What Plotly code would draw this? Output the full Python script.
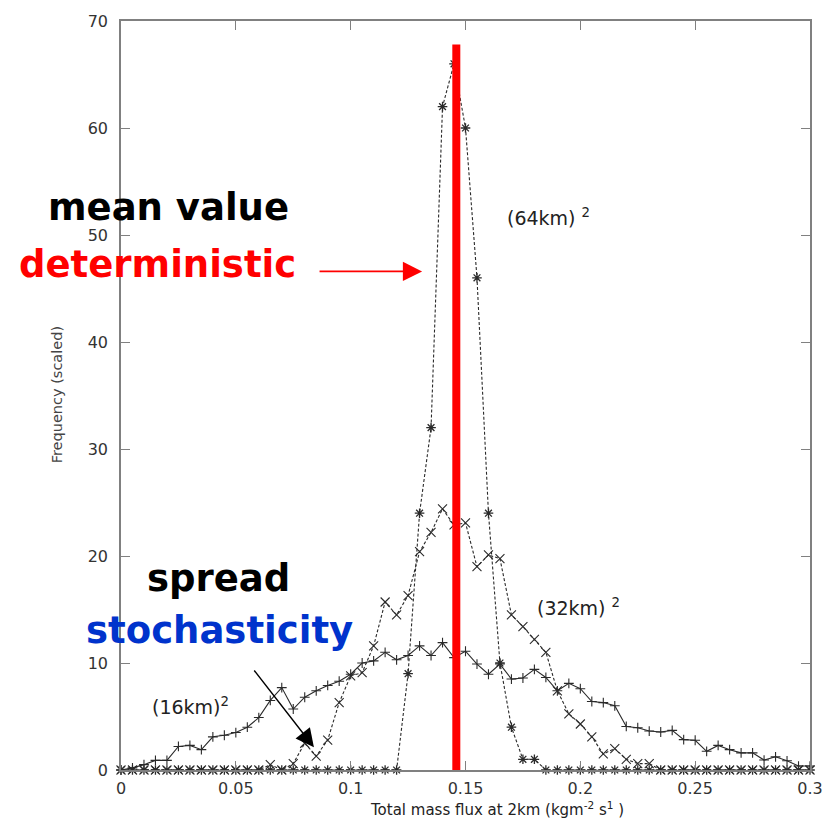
import plotly.graph_objects as go

# Histogram bin centres of total mass flux at 2 km (kg m^-2 s^-1)
flux_bins = [round(0.005 * i, 3) for i in range(61)]

# Scaled frequencies for the three grid spacings
freq_16km = [0, 0.2, 0.5, 0.9, 0.9, 2.2, 2.3, 1.9, 3.1, 3.25,
             3.5, 4.0, 4.9, 6.5, 7.7, 5.7, 6.8, 7.4, 7.9, 8.3,
             8.95, 10.0, 10.2, 11.0, 10.3, 10.7, 11.6, 10.7, 11.9, 10.5,
             11.1, 9.9, 8.95, 9.9, 8.5, 8.6, 9.4, 8.65, 7.4, 8.1,
             7.6, 6.4, 6.3, 6.0, 4.07, 3.95, 3.64, 3.55, 3.7, 2.84,
             2.78, 1.75, 2.3, 1.9, 1.6, 1.6, 0.93, 1.23, 0.86, 0.37,
             0.37]
freq_32km = [0, 0, 0, 0, 0, 0, 0, 0, 0, 0,
             0, 0, 0, 0.5, 0, 0.6, 2.5, 1.3, 2.8, 6.3,
             8.8, 9.1, 11.6, 15.7, 14.5, 16.3, 20.4, 22.2, 24.4, 22.9,
             23.1, 19.0, 20.1, 19.75, 14.5, 13.4, 12.2, 11.0, 7.4, 5.25,
             4.3, 3.1, 1.5, 2.0, 1.0, 0.6, 0.6, 0, 0, 0,
             0, 0, 0, 0, 0, 0, 0, 0, 0, 0,
             0]
freq_64km = [0, 0, 0, 0, 0, 0, 0, 0, 0, 0,
             0, 0, 0, 0, 0, 0, 0, 0, 0, 0,
             0, 0, 0, 0, 0, 9, 24, 32, 62, 66,
             60, 46, 24, 10, 4, 1, 1, 0, 0, 0,
             0, 0, 0, 0, 0, 0, 0, 0, 0, 0,
             0, 0, 0, 0, 0, 0, 0, 0, 0, 0,
             0]

# Deterministic mean value and the height of its marker line
mean_flux = 0.146
mean_line_top = 67.8

x_ticks = [0, 0.05, 0.1, 0.15, 0.2, 0.25, 0.3]
x_tick_text = ["0", "0.05", "0.1", "0.15", "0.2", "0.25", "0.3"]
y_ticks = [0, 10, 20, 30, 40, 50, 60, 70]

curve_col = "#2a2a2a"
dash = "3px,2px"

fig = go.Figure()
fig.add_trace(go.Scatter(
    x=flux_bins, y=freq_16km, mode="lines+markers", cliponaxis=False,
    line=dict(color=curve_col, width=1.1),
    marker=dict(symbol="cross-thin-open", size=7, color=curve_col,
                line=dict(color=curve_col, width=1.1)),
    name="(16km)^2"))
fig.add_trace(go.Scatter(
    x=flux_bins, y=freq_32km, mode="lines+markers", cliponaxis=False,
    line=dict(color=curve_col, width=1.1, dash=dash),
    marker=dict(symbol="x-thin-open", size=9, color=curve_col,
                line=dict(color=curve_col, width=1.1)),
    name="(32km)^2"))
fig.add_trace(go.Scatter(
    x=flux_bins, y=freq_64km, mode="lines+markers", cliponaxis=False,
    line=dict(color=curve_col, width=1.1, dash=dash),
    marker=dict(symbol="asterisk-open", size=8, color=curve_col,
                line=dict(color=curve_col, width=1.3)),
    name="(64km)^2"))
fig.add_trace(go.Scatter(
    x=[mean_flux, mean_flux], y=[0, mean_line_top], mode="lines",
    cliponaxis=False, line=dict(color="#ff0000", width=8),
    name="mean"))

big = "DejaVu Sans"
fig.add_annotation(x=0.0205, y=52.6, text="<b>mean value</b>", showarrow=False,
                   font=dict(family=big, size=37, color="#000000"))
fig.add_annotation(x=0.0159, y=47.2, text="<b>deterministic</b>", showarrow=False,
                   font=dict(family=big, size=37, color="#ff0000"))
fig.add_annotation(x=0.1311, y=46.6, ax=0.0858, ay=46.6, axref="x", ayref="y",
                   text="", showarrow=True, arrowhead=2, arrowsize=2.4,
                   arrowwidth=1.6, arrowcolor="#ff0000", standoff=0)
fig.add_annotation(x=0.0425, y=17.9, text="<b>spread</b>", showarrow=False,
                   font=dict(family=big, size=37, color="#000000"))
fig.add_annotation(x=0.0427, y=13.0, text="<b>stochasticity</b>", showarrow=False,
                   font=dict(family=big, size=37, color="#0033cc"))
fig.add_annotation(x=0.0840, y=2.13, ax=0.0575, ay=9.44, axref="x", ayref="y",
                   text="", showarrow=True, arrowhead=2, arrowsize=2.6,
                   arrowwidth=1.4, arrowcolor="#000000", standoff=0)

lab_font = dict(family="DejaVu Sans", size=19, color="#222222")
fig.add_annotation(x=0.1672, y=51.7, text="(64km) <sup>2</sup>", showarrow=False,
                   xanchor="left", font=lab_font)
fig.add_annotation(x=0.1803, y=15.2, text="(32km) <sup>2</sup>", showarrow=False,
                   xanchor="left", font=lab_font)
fig.add_annotation(x=0.0126, y=6.0, text="(16km)<sup>2</sup>", showarrow=False,
                   xanchor="left", font=lab_font)

# Axis titles
fig.add_annotation(xref="paper", yref="paper", x=0.5457, y=-0.0515,
                   text="Total mass flux at 2km (kgm<sup>-2</sup> s<sup>1</sup> )",
                   showarrow=False, yanchor="middle",
                   font=dict(family="DejaVu Sans", size=15, color="#222222"))
fig.add_annotation(xref="paper", yref="paper", x=-0.108, y=0.501,
                   text="Frequency (scaled)", textangle=-90, showarrow=False,
                   font=dict(family="DejaVu Sans", size=14.5, color="#444444"))

axis_common = dict(showline=True, linecolor="#808080", linewidth=1.5,
                   mirror="ticks", ticks="inside", ticklen=9, tickwidth=1.2,
                   tickcolor="#808080", showgrid=False, zeroline=False,
                   tickfont=dict(family="DejaVu Sans", size=16, color="#333333"))
fig.update_xaxes(range=[0, 0.3], tickvals=x_ticks, ticktext=x_tick_text,
                 ticklabelstandoff=3, **axis_common)
fig.update_yaxes(range=[0, 70], tickvals=y_ticks, ticklabelstandoff=8,
                 **axis_common)

fig.update_layout(width=837, height=821, showlegend=False,
                  paper_bgcolor="white", plot_bgcolor="white",
                  margin=dict(l=121, r=27, t=14, b=51))

fig.write_html("out.html")
